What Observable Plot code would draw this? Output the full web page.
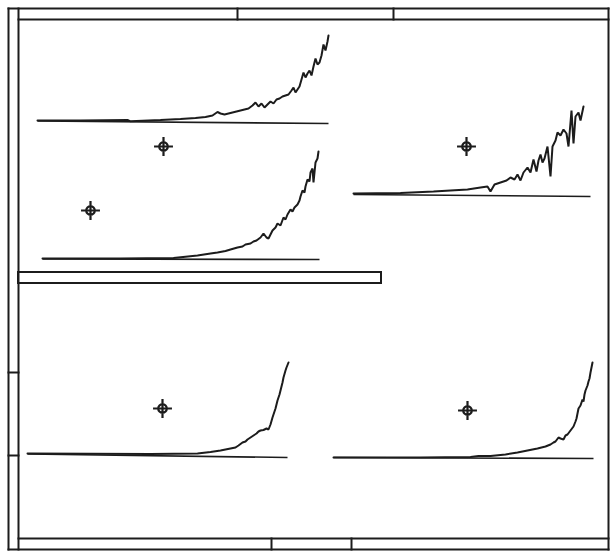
<!DOCTYPE html>
<html>
<head>
<meta charset="utf-8">
<script src="https://cdn.jsdelivr.net/npm/d3@7"></script>
<script src="https://cdn.jsdelivr.net/npm/@observablehq/plot@0.6"></script>
<style>
  html, body { margin: 0; padding: 0; background: #fff; }
</style>
</head>
<body>
<div id="chart"></div>
<script>
// ---- data (plane units: 0..615 across, 0..555 down) ----
const frameSegments = [
  // outer frame
  [8, 8, 608, 8], [8, 549, 608, 549], [8, 8, 8, 549], [608, 8, 608, 549],
  // inner frame lines
  [18, 19, 608, 19], [18, 8, 18, 549], [18, 538, 608, 538],
  // top strip dividers
  [237, 8, 237, 19], [393, 8, 393, 19],
  // bottom strip dividers
  [271, 538, 271, 549], [351, 538, 351, 549],
  // left strip dividers
  [8, 372, 18, 372], [8, 455, 18, 455]
];
const bars = [[18, 272, 381, 283]];

const traceA = [[37,120],[80,120],[127,119.5],[130,120.8],[160,119.5],[180,118.5],[195,117.5],[205,116.5],[212,115],[217,111.5],[220,113],[224,114],[230,112.5],[236,111],[242,109.5],[248,108],[252,105],[255,102],[258,106],[261,103],[264,107],[267,104],[270,101],[273,103],[276,99],[279,98],[282,96],[285,95],[288,94],[291,90],[293,87],[295,92],[297,89],[299,86],[301,79],[303,72],[305,77],[307,73],[309,70],[311,75],[313,66],[315,58],[317,64],[319,62],[321,55],[323,44],[325,50],[327,41],[328,35]];
const traceB = [[353,193],[400,192.5],[433,191],[450,190],[467,189],[480,187],[487,186],[490,191],[494,184],[500,182],[506,180],[510,177],[514,179],[517,174],[520,180],[523,172],[527,167],[530,172],[533,159],[536,171],[538,160],[540,154],[542,162],[544,158],[547,146],[550,176],[552,146],[555,140],[557,132],[560,135],[563,129],[566,133],[568,146],[571,110],[573,143],[575,116],[578,112],[580,120],[583,106]];
const traceC = [[42,258],[120,258],[173,257.5],[197,255],[210,253],[217,252],[225,250.5],[230,249],[237,247],[242,246],[245,244],[250,243],[253,241],[256,240],[260,237],[263,233],[266,237],[268,238],[270,234],[272,230],[275,227],[277,223],[280,225],[283,217],[285,219],[287,214],[290,209],[292,211],[294,207],[297,204],[299,200],[300,196],[302,190],[304,192],[305,186],[307,179],[309,181],[310,172],[312,168],[313,182],[315,162],[317,158],[318,151]];
const traceD = [[27,453],[150,453.5],[197,453],[210,451.5],[220,450],[230,448],[235,447],[238,445],[242,442],[245,441],[247,439],[250,437],[253,435],[256,433],[258,431],[260,430],[263,429.5],[266,428],[268,429],[270,424],[272,417],[274,411],[275,408],[277,400],[279,394],[280,390],[282,382],[283,377],[285,370],[286,367],[288,362]];
const traceE = [[333,457],[420,457],[470,456.5],[478,455.5],[490,455.5],[505,454],[517,452],[527,450],[537,448],[545,446],[550,444],[553,442],[555,441],[558,437],[560,438],[563,439],[565,435],[567,434],[570,430],[573,426],[575,421],[576,418],[578,408],[580,405],[582,399],[583,401],[584,394],[585,390],[587,385],[588,381],[589,378],[590,372],[592,362]];

const baselines = [
  [37, 120.5, 328, 123],
  [353, 194, 590, 196],
  [42, 258.5, 319, 259],
  [27, 453.5, 287, 457],
  [333, 457, 593, 458]
];
const markers = [[163,146],[90,210],[466,146],[162,408],[467,410]];

// ---- build tables ----
const traces = [["A", traceA], ["B", traceB], ["C", traceC], ["D", traceD], ["E", traceE]]
  .flatMap(([k, pts]) => pts.map(([x, y]) => ({k, x, y})));

const crosshair = {
  draw(ctx, size) {
    const r = Math.sqrt(size / Math.PI);
    ctx.moveTo(r, 0);
    ctx.arc(0, 0, r, 0, 2 * Math.PI);
    ctx.moveTo(-2.2 * r, 0); ctx.lineTo(2.2 * r, 0);
    ctx.moveTo(0, -2.2 * r); ctx.lineTo(0, 2.2 * r);
  }
};

const ink = "#1c1c1c";
const chart = Plot.plot({
  width: 615,
  height: 555,
  margin: 0,
  style: {background: "#fff"},
  x: {domain: [0, 615], axis: null},
  y: {domain: [0, 555], reverse: true, axis: null},
  marks: [
    Plot.rect(bars, {x1: d => d[0], y1: d => d[1], x2: d => d[2], y2: d => d[3], fill: "none", stroke: ink, strokeWidth: 2}),
    Plot.link(frameSegments, {x1: d => d[0], y1: d => d[1], x2: d => d[2], y2: d => d[3], stroke: ink, strokeWidth: 2, strokeLinecap: "square"}),
    Plot.link(baselines, {x1: d => d[0], y1: d => d[1], x2: d => d[2], y2: d => d[3], stroke: ink, strokeWidth: 1.6}),
    Plot.line(traces, {x: "x", y: "y", z: "k", stroke: ink, strokeWidth: 2, strokeLinejoin: "miter"}),
    Plot.dot(markers, {x: d => d[0], y: d => d[1], r: 4.3, symbol: crosshair, fill: "none", stroke: ink, strokeWidth: 2.2})
  ]
});
document.getElementById("chart").appendChild(chart);
</script>
</body>
</html>
